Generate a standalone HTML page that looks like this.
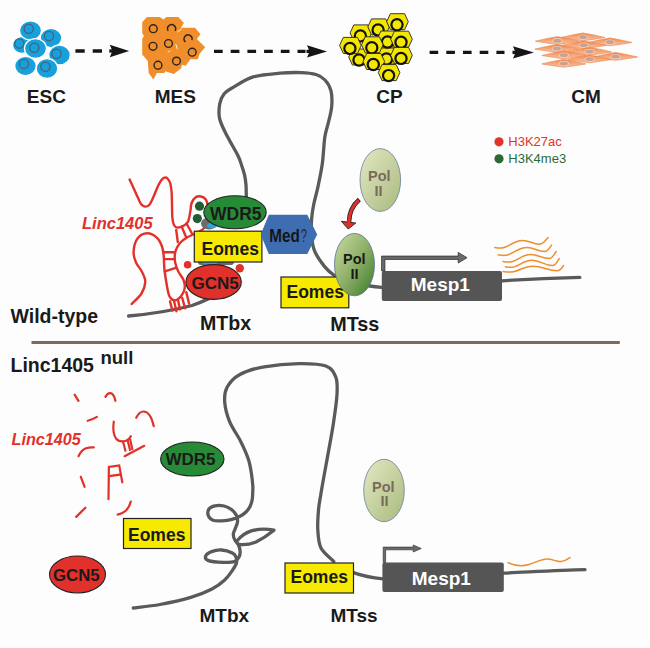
<!DOCTYPE html>
<html><head><meta charset="utf-8"><style>
html,body{margin:0;padding:0;background:#fdfdfd;}
svg{display:block;font-family:"Liberation Sans",sans-serif;}
</style></head><body>
<svg width="650" height="648" viewBox="0 0 650 648">
<rect x="0" y="0" width="650" height="648" fill="#fdfdfd"/>
<g>
<ellipse cx="22" cy="45" rx="9.5" ry="8.5" fill="#17a0da" stroke="#fdfdfd" stroke-width="1.3"/>
<circle cx="19.4" cy="43.5" r="4.6" fill="none" stroke="#45627e" stroke-width="1.3"/>
<ellipse cx="30.5" cy="30.5" rx="11" ry="9.6" fill="#17a0da" stroke="#fdfdfd" stroke-width="1.3"/>
<circle cx="28.7" cy="28.7" r="4.6" fill="none" stroke="#45627e" stroke-width="1.3"/>
<ellipse cx="51" cy="38" rx="10.8" ry="9.6" fill="#17a0da" stroke="#fdfdfd" stroke-width="1.3"/>
<circle cx="49" cy="36" r="4.6" fill="none" stroke="#45627e" stroke-width="1.3"/>
<ellipse cx="35.5" cy="48.5" rx="11" ry="9.8" fill="#17a0da" stroke="#fdfdfd" stroke-width="1.3"/>
<circle cx="34.3" cy="47.8" r="4.6" fill="none" stroke="#45627e" stroke-width="1.3"/>
<ellipse cx="59.5" cy="55" rx="10.8" ry="10" fill="#17a0da" stroke="#fdfdfd" stroke-width="1.3"/>
<circle cx="56.5" cy="53.7" r="4.6" fill="none" stroke="#45627e" stroke-width="1.3"/>
<ellipse cx="25.5" cy="66" rx="10.8" ry="9.6" fill="#17a0da" stroke="#fdfdfd" stroke-width="1.3"/>
<circle cx="24" cy="63.9" r="4.6" fill="none" stroke="#45627e" stroke-width="1.3"/>
<ellipse cx="47" cy="68.5" rx="10.8" ry="10" fill="#17a0da" stroke="#fdfdfd" stroke-width="1.3"/>
<circle cx="45.4" cy="66.7" r="4.6" fill="none" stroke="#45627e" stroke-width="1.3"/>
</g>
<polygon points="142.2,22.2 146.9,17 159.8,17 163.5,19.4 166.3,17 178.3,17 183.9,23.1 181,27.8 195,27.8 200.5,34.3 196.9,38.9 205.2,47.2 199.6,53.7 197.8,59.3 190.4,59.3 185.7,65.7 182,64.8 181,68.5 173.7,74 165.4,71.3 164.4,73.1 157,73.1 153.3,79.6 148.7,73.1 147.8,61.1 142.2,54.6 142.2,38.9 144,36.1 142.2,33.3" fill="#f08e2b"/>
<circle cx="153.3" cy="28.7" r="3.9" fill="none" stroke="#2a2420" stroke-width="1.4"/>
<circle cx="153" cy="46.3" r="3.9" fill="none" stroke="#2a2420" stroke-width="1.4"/>
<circle cx="168.5" cy="43.5" r="3.9" fill="none" stroke="#2a2420" stroke-width="1.4"/>
<circle cx="192.2" cy="52.2" r="3.9" fill="none" stroke="#2a2420" stroke-width="1.4"/>
<circle cx="158" cy="65.2" r="3.9" fill="none" stroke="#2a2420" stroke-width="1.4"/>
<circle cx="176.5" cy="61.1" r="3.9" fill="none" stroke="#2a2420" stroke-width="1.4"/>
<path d="M168.2,30.8 A4,4 0 1 1 175,30.8" fill="none" stroke="#2a2420" stroke-width="1.4"/>
<path d="M185.5,42 A4,4 0 1 1 191.9,40" fill="none" stroke="#2a2420" stroke-width="1.4"/>
<line x1="177.4" y1="32" x2="181.9" y2="28.7" stroke="#fdfdfd" stroke-width="0.9"/>
<line x1="168" y1="52.6" x2="170.2" y2="50.3" stroke="#fdfdfd" stroke-width="0.9"/>
<line x1="175.8" y1="44.2" x2="177.4" y2="49.2" stroke="#fdfdfd" stroke-width="0.9"/>
<polygon points="348.7,57.0 352.4,49.0 366.6,49.0 370.3,57.0 366.6,65.0 352.4,65.0" fill="#f3e600" stroke="#222" stroke-width="0.9"/>
<circle cx="359.0" cy="60.0" r="5.6" fill="#f3e600" stroke="#111" stroke-width="2.2"/>
<polygon points="376.2,56.0 379.9,48.0 394.1,48.0 397.8,56.0 394.1,64.0 379.9,64.0" fill="#f3e600" stroke="#222" stroke-width="0.9"/>
<circle cx="386.5" cy="59.0" r="5.6" fill="#f3e600" stroke="#111" stroke-width="2.2"/>
<polygon points="350.1,32.9 353.8,24.9 368.0,24.9 371.7,32.9 368.0,40.9 353.8,40.9" fill="#f3e600" stroke="#222" stroke-width="0.9"/>
<circle cx="360.4" cy="35.9" r="5.6" fill="#f3e600" stroke="#111" stroke-width="2.2"/>
<polygon points="367.8,26.9 371.5,18.9 385.7,18.9 389.4,26.9 385.7,34.9 371.5,34.9" fill="#f3e600" stroke="#222" stroke-width="0.9"/>
<circle cx="378.1" cy="29.9" r="5.6" fill="#f3e600" stroke="#111" stroke-width="2.2"/>
<polygon points="386.7,21.7 390.4,13.7 404.6,13.7 408.3,21.7 404.6,29.7 390.4,29.7" fill="#f3e600" stroke="#222" stroke-width="0.9"/>
<circle cx="397.0" cy="24.7" r="5.6" fill="#f3e600" stroke="#111" stroke-width="2.2"/>
<polygon points="377.2,39.0 380.9,31.0 395.1,31.0 398.8,39.0 395.1,47.0 380.9,47.0" fill="#f3e600" stroke="#222" stroke-width="0.9"/>
<circle cx="387.5" cy="42.0" r="5.6" fill="#f3e600" stroke="#111" stroke-width="2.2"/>
<polygon points="390.7,39.2 394.4,31.2 408.6,31.2 412.3,39.2 408.6,47.2 394.4,47.2" fill="#f3e600" stroke="#222" stroke-width="0.9"/>
<circle cx="401.0" cy="42.2" r="5.6" fill="#f3e600" stroke="#111" stroke-width="2.2"/>
<polygon points="339.6,45.4 343.3,37.4 357.5,37.4 361.2,45.4 357.5,53.4 343.3,53.4" fill="#f3e600" stroke="#222" stroke-width="0.9"/>
<circle cx="349.9" cy="48.4" r="5.6" fill="#f3e600" stroke="#111" stroke-width="2.2"/>
<polygon points="361.5,44.8 365.2,36.8 379.4,36.8 383.1,44.8 379.4,52.8 365.2,52.8" fill="#f3e600" stroke="#222" stroke-width="0.9"/>
<circle cx="371.8" cy="47.8" r="5.6" fill="#f3e600" stroke="#111" stroke-width="2.2"/>
<polygon points="390.7,55.4 394.4,47.4 408.6,47.4 412.3,55.4 408.6,63.4 394.4,63.4" fill="#f3e600" stroke="#222" stroke-width="0.9"/>
<circle cx="401.0" cy="58.4" r="5.6" fill="#f3e600" stroke="#111" stroke-width="2.2"/>
<polygon points="363.0,61.5 366.7,53.5 380.9,53.5 384.6,61.5 380.9,69.5 366.7,69.5" fill="#f3e600" stroke="#222" stroke-width="0.9"/>
<circle cx="373.3" cy="64.5" r="5.6" fill="#f3e600" stroke="#111" stroke-width="2.2"/>
<polygon points="378.3,72.6 382.0,64.6 396.2,64.6 399.9,72.6 396.2,80.6 382.0,80.6" fill="#f3e600" stroke="#222" stroke-width="0.9"/>
<circle cx="388.6" cy="75.6" r="5.6" fill="#f3e600" stroke="#111" stroke-width="2.2"/>
<defs><linearGradient id="cmg" x1="0" y1="0" x2="0" y2="1"><stop offset="0" stop-color="#ef7d3c"/><stop offset="0.45" stop-color="#f4a476"/><stop offset="1" stop-color="#f8c6a6"/></linearGradient></defs>
<path d="M561.0,37.5 Q573.0,34.5 583.0,33.0 Q593.0,34.5 605.0,37.5 Q593.0,39.5 583.0,40.8 Q573.0,39.5 561.0,37.5 Z" fill="url(#cmg)" stroke="#f08a50" stroke-width="0.7"/>
<ellipse cx="583.0" cy="37.0" rx="5" ry="2.6" fill="#f3d3c3"/>
<ellipse cx="583.0" cy="37.0" rx="4.2" ry="2" fill="#c9a292"/>
<path d="M535.3,41.2 Q547.3,38.2 557.3,36.7 Q567.3,38.2 579.3,41.2 Q567.3,43.2 557.3,44.5 Q547.3,43.2 535.3,41.2 Z" fill="url(#cmg)" stroke="#f08a50" stroke-width="0.7"/>
<ellipse cx="557.3" cy="40.7" rx="5" ry="2.6" fill="#f3d3c3"/>
<ellipse cx="557.3" cy="40.7" rx="4.2" ry="2" fill="#c9a292"/>
<path d="M588.0,42.5 Q600.0,39.5 610.0,38.0 Q620.0,39.5 632.0,42.5 Q620.0,44.5 610.0,45.8 Q600.0,44.5 588.0,42.5 Z" fill="url(#cmg)" stroke="#f08a50" stroke-width="0.7"/>
<ellipse cx="610.0" cy="42.0" rx="5" ry="2.6" fill="#f3d3c3"/>
<ellipse cx="610.0" cy="42.0" rx="4.2" ry="2" fill="#c9a292"/>
<path d="M561.7,45.5 Q573.7,42.5 583.7,41.0 Q593.7,42.5 605.7,45.5 Q593.7,47.5 583.7,48.8 Q573.7,47.5 561.7,45.5 Z" fill="url(#cmg)" stroke="#f08a50" stroke-width="0.7"/>
<ellipse cx="583.7" cy="45.0" rx="5" ry="2.6" fill="#f3d3c3"/>
<ellipse cx="583.7" cy="45.0" rx="4.2" ry="2" fill="#c9a292"/>
<path d="M535.0,49.1 Q547.0,46.1 557.0,44.6 Q567.0,46.1 579.0,49.1 Q567.0,51.1 557.0,52.4 Q547.0,51.1 535.0,49.1 Z" fill="url(#cmg)" stroke="#f08a50" stroke-width="0.7"/>
<ellipse cx="557.0" cy="48.6" rx="5" ry="2.6" fill="#f3d3c3"/>
<ellipse cx="557.0" cy="48.6" rx="4.2" ry="2" fill="#c9a292"/>
<path d="M567.6,51.9 Q579.6,48.9 589.6,47.4 Q599.6,48.9 611.6,51.9 Q599.6,53.9 589.6,55.2 Q579.6,53.9 567.6,51.9 Z" fill="url(#cmg)" stroke="#f08a50" stroke-width="0.7"/>
<ellipse cx="589.6" cy="51.4" rx="5" ry="2.6" fill="#f3d3c3"/>
<ellipse cx="589.6" cy="51.4" rx="4.2" ry="2" fill="#c9a292"/>
<path d="M541.8,55.5 Q553.8,52.5 563.8,51.0 Q573.8,52.5 585.8,55.5 Q573.8,57.5 563.8,58.8 Q553.8,57.5 541.8,55.5 Z" fill="url(#cmg)" stroke="#f08a50" stroke-width="0.7"/>
<ellipse cx="563.8" cy="55.0" rx="5" ry="2.6" fill="#f3d3c3"/>
<ellipse cx="563.8" cy="55.0" rx="4.2" ry="2" fill="#c9a292"/>
<path d="M593.5,57.0 Q605.5,54.0 615.5,52.5 Q625.5,54.0 637.5,57.0 Q625.5,59.0 615.5,60.3 Q605.5,59.0 593.5,57.0 Z" fill="url(#cmg)" stroke="#f08a50" stroke-width="0.7"/>
<ellipse cx="615.5" cy="56.5" rx="5" ry="2.6" fill="#f3d3c3"/>
<ellipse cx="615.5" cy="56.5" rx="4.2" ry="2" fill="#c9a292"/>
<path d="M567.6,59.5 Q579.6,56.5 589.6,55.0 Q599.6,56.5 611.6,59.5 Q599.6,61.5 589.6,62.8 Q579.6,61.5 567.6,59.5 Z" fill="url(#cmg)" stroke="#f08a50" stroke-width="0.7"/>
<ellipse cx="589.6" cy="59.0" rx="5" ry="2.6" fill="#f3d3c3"/>
<ellipse cx="589.6" cy="59.0" rx="4.2" ry="2" fill="#c9a292"/>
<path d="M541.8,63.9 Q553.8,60.9 563.8,59.4 Q573.8,60.9 585.8,63.9 Q573.8,65.9 563.8,67.2 Q553.8,65.9 541.8,63.9 Z" fill="url(#cmg)" stroke="#f08a50" stroke-width="0.7"/>
<ellipse cx="563.8" cy="63.4" rx="5" ry="2.6" fill="#f3d3c3"/>
<ellipse cx="563.8" cy="63.4" rx="4.2" ry="2" fill="#c9a292"/>
<line x1="75.4" y1="51" x2="102" y2="51" stroke="#151515" stroke-width="3.3" stroke-dasharray="9.3 8"/>
<path d="M129.2,51 L109.8,44.8 L112.39999999999999,51 L109.8,57.2 Z" fill="#151515"/>
<rect x="109.3" y="49.35" width="5" height="3.3" fill="#151515"/>
<line x1="214" y1="51.4" x2="305.5" y2="51.4" stroke="#151515" stroke-width="3.3" stroke-dasharray="8.7 8"/>
<path d="M327,51.4 L307,45.199999999999996 L309.6,51.4 L307,57.6 Z" fill="#151515"/>
<rect x="306.5" y="49.75" width="5" height="3.3" fill="#151515"/>
<line x1="429.6" y1="52.4" x2="504.5" y2="52.4" stroke="#151515" stroke-width="3.3" stroke-dasharray="8.6 8.1"/>
<path d="M533.9,52.4 L513,46.199999999999996 L515.6,52.4 L513,58.6 Z" fill="#151515"/>
<rect x="512.5" y="50.75" width="5" height="3.3" fill="#151515"/>
<text x="26.8" y="102.5" font-size="19" font-weight="bold" fill="#1a1a1a" >ESC</text>
<text x="154.8" y="102.5" font-size="19" font-weight="bold" fill="#1a1a1a" >MES</text>
<text x="376.2" y="102.5" font-size="19" font-weight="bold" fill="#1a1a1a" >CP</text>
<text x="571.2" y="102.5" font-size="19" font-weight="bold" fill="#1a1a1a" >CM</text>
<path d="M128.6,316 C150,314 175,310 192,305.5 C205,301 215,296 225,290" stroke="#5a5a5a" stroke-width="3.3" fill="none" stroke-linecap="round" stroke-linejoin="round"/>
<path d="M246.3,197.0 C246.2,195.0 246.3,188.6 246.0,185.0 C245.7,181.4 245.3,178.5 244.6,175.2 C243.8,171.9 242.6,168.2 241.5,165.0 C240.4,161.8 240.4,160.5 238.0,155.7 C235.6,150.9 230.4,142.4 227.3,136.3 C224.2,130.2 221.0,124.4 219.7,119.0 C218.4,113.6 219.0,108.1 219.7,103.9 C220.4,99.7 222.0,96.6 224.0,94.0 C226.0,91.4 226.7,91.1 231.6,88.3 C236.5,85.5 245.1,79.4 253.2,76.9 C261.3,74.4 272.0,73.9 280.0,73.2 C288.0,72.5 295.0,72.4 301.0,72.6 C307.0,72.8 312.0,73.3 316.0,74.5 C320.0,75.7 322.5,77.3 325.0,80.0 C327.5,82.7 329.9,86.5 331.0,90.9 C332.1,95.3 332.1,101.2 331.7,106.3 C331.3,111.4 329.8,116.6 328.6,121.7 C327.5,126.8 325.8,130.3 324.8,137.2 C323.8,144.1 323.5,154.8 322.4,163.0 C321.3,171.2 319.4,179.9 318.0,186.7 C316.6,193.5 314.9,198.6 313.8,204.0 C312.7,209.4 312.0,213.6 311.6,219.0 C311.2,224.4 311.1,231.0 311.6,236.4 C312.1,241.8 312.6,246.5 314.8,251.5 C317.0,256.5 321.4,262.6 324.6,266.6 C327.9,270.6 330.1,272.7 334.3,275.3 C338.5,277.9 344.1,280.7 350.0,282.5 C355.9,284.3 364.5,285.2 370.0,286.0 C375.5,286.8 380.8,287.2 383.0,287.4" stroke="#5a5a5a" stroke-width="3.3" fill="none" stroke-linecap="round" stroke-linejoin="round"/>
<path d="M502,280.8 C530,279 555,278 579.8,277.4" stroke="#5a5a5a" stroke-width="3.3" fill="none" stroke-linecap="round" stroke-linejoin="round"/>
<path d="M129.6,179.6 C130.3,181.2 132.6,185.8 134.0,189.0 C135.4,192.2 137.1,196.0 138.3,198.5 C139.5,201.0 139.9,202.7 141.0,204.0 C142.1,205.3 143.6,206.4 145.0,206.6 C146.4,206.8 148.0,206.2 149.2,205.0 C150.4,203.8 151.2,201.7 152.3,199.5 C153.4,197.3 154.5,194.4 155.5,192.0 C156.5,189.6 157.5,187.0 158.5,185.0 C159.5,183.0 160.5,181.2 161.5,180.0 C162.5,178.8 163.4,177.9 164.4,177.7 C165.4,177.4 166.5,177.5 167.5,178.5 C168.5,179.5 169.6,181.2 170.3,183.5 C171.0,185.8 171.3,188.4 171.6,192.0 C171.9,195.6 171.9,200.7 172.0,205.0 C172.1,209.3 172.1,214.7 172.4,218.0 C172.7,221.3 173.2,223.4 174.0,225.0 C174.8,226.6 175.7,227.5 177.3,227.6 C178.9,227.7 181.7,226.8 183.5,225.8 C185.3,224.8 187.0,223.8 188.1,221.4 C189.2,219.0 189.7,214.7 190.3,211.6 C190.9,208.5 190.7,205.4 191.6,203.0 C192.5,200.6 194.1,198.4 195.7,197.3 C197.3,196.2 199.3,196.1 201.0,196.5 C202.7,196.9 204.9,198.1 206.0,199.7 C207.1,201.3 207.3,202.6 207.6,206.2 C207.9,209.8 208.3,217.6 207.6,221.4 C206.9,225.2 205.2,227.0 203.2,229.0 C201.2,231.0 198.4,231.8 195.7,233.2 C193.0,234.6 189.4,236.1 187.0,237.6 C184.6,239.1 182.7,240.3 181.0,242.0 C179.3,243.7 178.0,245.5 177.0,247.5 C176.0,249.5 175.2,251.4 174.9,254.0 C174.6,256.6 174.7,260.2 175.3,263.1 C175.9,266.0 176.9,268.7 178.3,271.5 C179.7,274.3 182.4,277.1 183.5,280.0 C184.6,282.9 185.0,285.9 184.6,288.6 C184.2,291.3 182.7,294.2 181.0,296.2 C179.3,298.2 176.6,300.3 174.7,300.4 C172.8,300.4 170.9,298.9 169.6,296.5 C168.3,294.1 167.8,290.7 167.0,286.3 C166.2,281.9 165.1,275.1 164.5,270.0 C163.9,264.9 164.1,259.9 163.7,256.0 C163.3,252.1 163.1,249.5 162.0,246.5 C160.9,243.5 159.5,240.0 157.0,237.8 C154.5,235.6 150.4,233.2 147.2,233.3 C143.9,233.4 139.8,235.4 137.5,238.5 C135.2,241.6 133.8,248.0 133.6,252.0 C133.3,256.0 134.6,259.2 136.0,262.5 C137.4,265.8 140.2,268.3 141.8,271.5 C143.4,274.7 145.4,278.2 145.3,281.9 C145.2,285.6 143.8,289.8 141.5,293.5 C139.2,297.2 133.3,302.2 131.7,304.0" stroke="#e2312a" stroke-width="2.4" fill="none" stroke-linecap="round"/>
<line x1="176.2" y1="230" x2="177.8" y2="242" stroke="#e2312a" stroke-width="2.4" fill="none" stroke-linecap="round"/>
<line x1="181.6" y1="226.6" x2="186" y2="236.8" stroke="#e2312a" stroke-width="2.4" fill="none" stroke-linecap="round"/>
<line x1="186.5" y1="223.5" x2="192" y2="233.5" stroke="#e2312a" stroke-width="2.4" fill="none" stroke-linecap="round"/>
<line x1="163.7" y1="252.2" x2="174.8" y2="252.2" stroke="#e2312a" stroke-width="2.4" fill="none" stroke-linecap="round"/>
<line x1="164.3" y1="259.1" x2="174.9" y2="259.1" stroke="#e2312a" stroke-width="2.4" fill="none" stroke-linecap="round"/>
<line x1="164.8" y1="271.3" x2="175.8" y2="267.8" stroke="#e2312a" stroke-width="2.4" fill="none" stroke-linecap="round"/>
<line x1="170" y1="301.3" x2="172.4" y2="310.6" stroke="#e2312a" stroke-width="2.4" fill="none" stroke-linecap="round"/>
<line x1="174.1" y1="301.3" x2="176.4" y2="311.2" stroke="#e2312a" stroke-width="2.4" fill="none" stroke-linecap="round"/>
<line x1="178.1" y1="300.2" x2="179.9" y2="309.4" stroke="#e2312a" stroke-width="2.4" fill="none" stroke-linecap="round"/>
<line x1="182.2" y1="297.9" x2="185.1" y2="308.3" stroke="#e2312a" stroke-width="2.4" fill="none" stroke-linecap="round"/>
<line x1="186.3" y1="292.1" x2="189.1" y2="303.7" stroke="#e2312a" stroke-width="2.4" fill="none" stroke-linecap="round"/>
<ellipse cx="209" cy="223.5" rx="8" ry="6" fill="#6a6a6a"/>
<ellipse cx="212" cy="225.5" rx="5" ry="3" fill="#2aa8de"/>
<rect x="198" y="259" width="36" height="6" rx="3" fill="#6a6a6a"/>
<ellipse cx="210" cy="263" rx="7" ry="2.5" fill="#2aa8de"/>
<ellipse cx="213.6" cy="282" rx="27.7" ry="17.4" fill="#e2302a" stroke="#222" stroke-width="1.1"/>
<rect x="194.3" y="231.2" width="67.6" height="30.8" fill="#f7ea00" stroke="#222" stroke-width="1.2"/>
<ellipse cx="235" cy="212.3" rx="31.2" ry="16.5" fill="#278a36" stroke="#222" stroke-width="1.1"/>
<polygon points="260.7,234.5 268.8,214.8 307.3,214.8 317.2,234.5 307.3,254 268.8,254" fill="#3f6db1"/>
<circle cx="199.5" cy="206.2" r="4.6" fill="#1f5e30"/>
<circle cx="197.3" cy="218.6" r="4.6" fill="#1f5e30"/>
<circle cx="187.6" cy="264.8" r="3.8" fill="#e2302a"/>
<circle cx="239.8" cy="268.2" r="4.2" fill="#e2302a"/>
<text x="210" y="219.8" font-size="17.5" font-weight="bold" fill="#1a1a1a" >WDR5</text>
<text x="201.5" y="254.5" font-size="17.5" font-weight="bold" fill="#1a1a1a" >Eomes</text>
<text x="191.5" y="288.5" font-size="17" font-weight="bold" fill="#1a1a1a" >GCN5</text>
<text x="0" y="0" font-size="19" font-weight="bold" fill="#161616" transform="translate(269.3 241.6) scale(0.805 1)">Med</text>
<text x="0" y="0" font-size="18" font-weight="normal" fill="#2a2a2a" transform="translate(300.8 241.6) scale(0.62 1)">?</text>
<defs><linearGradient id="gl" x1="0" y1="0" x2="1" y2="1"><stop offset="0" stop-color="#e3e8c4"/><stop offset="1" stop-color="#a9ba7e"/></linearGradient><linearGradient id="gd" x1="0" y1="0" x2="1" y2="1"><stop offset="0" stop-color="#cadba2"/><stop offset="0.5" stop-color="#8fb068"/><stop offset="1" stop-color="#3a7a2a"/></linearGradient></defs>
<ellipse cx="380.3" cy="180" rx="20.3" ry="31.4" fill="url(#gl)" stroke="#6c7f9a" stroke-width="0.8"/>
<text x="368" y="181" font-size="14.5" font-weight="bold" fill="#7a6c5c" >Pol</text>
<text x="374.5" y="196" font-size="14.5" font-weight="bold" fill="#7a6c5c" >II</text>
<path d="M359.3,199.6 C353,205 349,212 348.9,223" stroke="#2a2020" stroke-width="4.6" fill="none"/>
<path d="M359.3,199.6 C353,205 349,212 348.9,223" stroke="#e0302a" stroke-width="2.9" fill="none" stroke-dasharray="0 0.8 100"/>
<path d="M341.3,221.3 L355.8,223 L348.2,229 Z" fill="#e0302a" stroke="#2a2020" stroke-width="0.9" stroke-linejoin="round"/>
<path d="M349,219 L348.9,224" stroke="#e0302a" stroke-width="2.9" fill="none"/>
<rect x="281" y="277" width="67.8" height="30.8" fill="#f7ea00" stroke="#222" stroke-width="1.2"/>
<ellipse cx="354.5" cy="264.6" rx="20" ry="31.2" fill="url(#gd)" stroke="#5a6f9a" stroke-width="0.8"/>
<text x="286.5" y="297.5" font-size="17.5" font-weight="bold" fill="#1a1a1a" >Eomes</text>
<text x="343" y="264" font-size="14.5" font-weight="bold" fill="#1a1a1a" >Pol</text>
<text x="350.5" y="278.5" font-size="14.5" font-weight="bold" fill="#1a1a1a" >II</text>
<rect x="381.8" y="271" width="120.2" height="30" rx="2" fill="#555555"/>
<path d="M381.6,271 L381.6,256.1 L458.2,256.1 L458.2,252.4 L467,257.7 L458.2,263 L458.2,259.4 L384.9,259.4 L384.9,271 Z" fill="#6a6a6a" stroke="#333" stroke-width="0.8" stroke-linejoin="miter"/>
<text x="410.8" y="291.2" font-size="19" font-weight="bold" fill="#ffffff" >Mesp1</text>
<path d="M494.9,247.4 C508.6,250.6 510.8,240.4 522.4,240.4 C530.1,240.4 531.8,244.2 539.5,244.2 C543.4,244.2 546.0,239.8 548.1,237.5" stroke="#ee8e2c" stroke-width="1.5" fill="none" stroke-linecap="round"/>
<path d="M498.4,254.8 C512.7,258.0 515.0,247.4 527.0,247.4 C534.9,247.4 536.7,251.5 544.6,251.5 C547.8,251.5 549.9,247.3 551.6,245.1" stroke="#ee8e2c" stroke-width="1.5" fill="none" stroke-linecap="round"/>
<path d="M503.1,261.5 C516.9,264.7 519.1,254.5 530.6,254.5 C539.0,254.5 540.9,258.6 549.3,258.6 C552.4,258.6 554.4,254.0 556.1,251.5" stroke="#ee8e2c" stroke-width="1.5" fill="none" stroke-linecap="round"/>
<path d="M505.4,266.7 C518.6,269.9 520.7,260.3 531.8,260.3 C541.2,260.3 543.3,265.6 552.8,265.6 C555.7,265.6 557.6,261.1 559.2,258.6" stroke="#ee8e2c" stroke-width="1.5" fill="none" stroke-linecap="round"/>
<path d="M503.1,271.4 C518.0,274.6 520.4,266.2 532.9,266.2 C544.0,266.2 546.4,270.8 557.5,270.8 C560.2,270.8 562.1,267.4 563.6,265.6" stroke="#ee8e2c" stroke-width="1.5" fill="none" stroke-linecap="round"/>
<circle cx="499" cy="141.8" r="4.6" fill="#e2342c"/>
<circle cx="499" cy="158.8" r="4.6" fill="#2b6a37"/>
<text x="508.3" y="146" font-size="13" font-weight="normal" fill="#e2342c" >H3K27ac</text>
<text x="508.3" y="163" font-size="13" font-weight="normal" fill="#2b6a37" >H3K4me3</text>
<text x="82" y="229" font-size="16.5" font-weight="bold" fill="#e2312a" font-style="italic">Linc1405</text>
<text x="10.5" y="323.2" font-size="19.5" font-weight="bold" fill="#1a1a1a" >Wild-type</text>
<text x="200" y="330.3" font-size="19.6" font-weight="bold" fill="#1a1a1a" >MTbx</text>
<text x="330.2" y="331.3" font-size="19.8" font-weight="bold" fill="#1a1a1a" >MTss</text>
<line x1="31.5" y1="342.5" x2="619.8" y2="342.5" stroke="#7c6b5a" stroke-width="3"/>
<text x="10.5" y="372" font-size="19.5" font-weight="bold" fill="#1a1a1a" >Linc1405</text>
<text x="100.5" y="363.8" font-size="18.5" font-weight="bold" fill="#1a1a1a" >null</text>
<path d="M133.3,608.0 C137.8,607.4 150.6,606.2 160.0,604.5 C169.4,602.8 181.3,600.3 190.0,597.7 C198.7,595.1 206.2,592.0 212.0,589.0 C217.8,586.0 221.4,583.0 224.7,580.0 C228.0,577.0 230.1,573.8 232.0,571.0 C233.9,568.2 235.6,565.8 236.3,563.5 C237.0,561.2 236.7,558.7 236.0,557.0 C235.3,555.3 234.8,554.3 232.4,553.1 C230.0,551.9 225.1,550.2 221.6,550.0 C218.1,549.8 214.3,550.6 211.6,551.6 C208.9,552.6 206.1,554.7 205.6,556.2 C205.1,557.7 205.6,559.6 208.5,560.6 C211.4,561.6 218.8,562.2 223.1,562.4 C227.4,562.5 231.8,562.5 234.5,561.5 C237.2,560.5 238.4,558.2 239.3,556.5 C240.2,554.8 240.2,552.9 240.1,551.0 C240.0,549.1 239.4,546.9 238.5,545.0 C237.6,543.1 235.5,541.3 234.6,539.5 C233.7,537.7 233.2,535.9 233.3,534.0 C233.5,532.1 234.8,530.0 235.5,528.0 C236.2,526.0 237.3,524.1 237.5,522.0 C237.7,519.9 237.5,517.6 236.5,515.5 C235.5,513.4 233.6,511.1 231.5,509.5 C229.4,507.9 226.8,506.6 224.0,506.0 C221.2,505.4 217.5,505.3 215.0,505.8 C212.5,506.3 210.1,507.4 209.0,509.0 C207.9,510.6 207.6,513.6 208.3,515.5 C209.0,517.4 210.7,519.4 213.0,520.3 C215.3,521.2 218.8,521.0 222.0,520.8 C225.2,520.6 229.0,520.1 232.0,519.3 C235.0,518.5 237.7,517.4 240.0,516.2 C242.3,515.0 244.3,513.7 246.0,512.0 C247.7,510.3 249.2,508.2 250.3,506.0 C251.4,503.8 251.9,501.7 252.3,499.0 C252.7,496.3 252.7,492.2 252.8,490.0 C252.9,487.8 253.0,488.5 252.8,485.8 C252.6,483.1 252.2,478.5 251.5,474.0 C250.8,469.5 250.1,464.4 248.3,459.0 C246.5,453.6 243.8,447.6 240.7,441.4 C237.6,435.2 232.3,428.2 229.6,421.6 C226.9,415.0 225.1,407.7 224.7,401.9 C224.3,396.1 224.7,391.5 227.2,387.0 C229.7,382.5 233.3,378.1 239.5,374.7 C245.7,371.3 254.3,368.6 264.2,366.8 C274.1,365.0 288.5,363.7 298.8,363.6 C309.1,363.5 319.7,363.7 325.9,366.0 C332.1,368.3 333.9,372.5 335.8,377.2 C337.7,381.9 337.4,386.6 337.0,394.4 C336.6,402.2 334.9,413.3 333.3,424.0 C331.7,434.7 329.2,447.1 327.2,458.6 C325.1,470.1 322.4,484.6 321.0,493.2 C319.6,501.8 319.0,503.9 318.5,510.0 C318.0,516.0 317.4,523.2 317.8,529.5 C318.2,535.8 318.3,542.7 321.0,548.0 C323.7,553.3 331.7,559.2 333.8,561.5" stroke="#5a5a5a" stroke-width="3.3" fill="none" stroke-linecap="round" stroke-linejoin="round"/>
<path d="M236.5,541.5 C240,537 246,532.5 252,530.7 C258,529 266,528.5 274,530.2 C268,535 262,539 256,542 C251,544 244,545 239.3,544.5" stroke="#5a5a5a" stroke-width="3.3" fill="none" stroke-linecap="round" stroke-linejoin="round"/>
<path d="M353.5,572.6 C360,575 368,577.5 383,578.8" stroke="#5a5a5a" stroke-width="3.3" fill="none" stroke-linecap="round" stroke-linejoin="round"/>
<path d="M503.8,573.2 C530,572 560,570 585,569.6" stroke="#5a5a5a" stroke-width="3.3" fill="none" stroke-linecap="round" stroke-linejoin="round"/>
<path d="M74.6,394.6 L78.5,400.8" stroke="#e2312a" stroke-width="2.2" fill="none" stroke-linecap="round"/>
<path d="M105.4,396.9 C107,394 109,393 110.5,393.2 C113,393.6 114.5,396.5 115.4,400.8" stroke="#e2312a" stroke-width="2.2" fill="none" stroke-linecap="round"/>
<path d="M87.7,420.8 C91,420 94,418.6 96.9,416.9" stroke="#e2312a" stroke-width="2.2" fill="none" stroke-linecap="round"/>
<path d="M136.2,417.7 C138,414 140.5,411.5 143.5,411.5 C148,411.5 151.5,416 153.8,426.2" stroke="#e2312a" stroke-width="2.2" fill="none" stroke-linecap="round"/>
<path d="M113.8,421.5 C113,427 113,434 116,438.5 C118.5,441.5 122,442 126,440.8 C128.5,440 130,438 130.8,436.2" stroke="#e2312a" stroke-width="2.2" fill="none" stroke-linecap="round"/>
<path d="M123,441.5 L125.4,450.8" stroke="#e2312a" stroke-width="2.2" fill="none" stroke-linecap="round"/>
<path d="M127.7,440.5 L130,450" stroke="#e2312a" stroke-width="2.2" fill="none" stroke-linecap="round"/>
<path d="M130.2,439.5 L132.3,449.2" stroke="#e2312a" stroke-width="2.2" fill="none" stroke-linecap="round"/>
<path d="M124.6,456.2 L144.3,445.8" stroke="#e2312a" stroke-width="2.2" fill="none" stroke-linecap="round"/>
<path d="M78.5,456.2 C80.5,452 83,449.5 86,448.3 C89,447.3 91.5,447.2 93.8,447.4" stroke="#e2312a" stroke-width="2.2" fill="none" stroke-linecap="round"/>
<path d="M108.5,499.2 L108.9,466.9 L119.2,465.4 L122.3,482.3" stroke="#e2312a" stroke-width="2.2" fill="none" stroke-linecap="round"/>
<path d="M108.9,476.2 L120,474.6" stroke="#e2312a" stroke-width="2.2" fill="none" stroke-linecap="round"/>
<path d="M80.8,476.9 L84.6,486.9" stroke="#e2312a" stroke-width="2.2" fill="none" stroke-linecap="round"/>
<path d="M76.2,516.9 L85.4,507.7" stroke="#e2312a" stroke-width="2.2" fill="none" stroke-linecap="round"/>
<path d="M117.7,514.6 C121,513.8 124,512.5 126,510.5 C128.5,508 130,505 130.8,501.5" stroke="#e2312a" stroke-width="2.2" fill="none" stroke-linecap="round"/>
<text x="11.5" y="444.7" font-size="16.2" font-weight="bold" fill="#e2312a" font-style="italic">Linc1405</text>
<ellipse cx="192.3" cy="459" rx="31.7" ry="17" fill="#278a36" stroke="#222" stroke-width="1.1"/>
<text x="165.5" y="465.3" font-size="17" font-weight="bold" fill="#1a1a1a" >WDR5</text>
<rect x="123.5" y="518.5" width="67.5" height="30" fill="#f7ea00" stroke="#222" stroke-width="1.2"/>
<text x="128" y="540.6" font-size="17.5" font-weight="bold" fill="#1a1a1a" >Eomes</text>
<ellipse cx="77.5" cy="574.5" rx="28" ry="18.5" fill="#e2302a" stroke="#222" stroke-width="1.1"/>
<text x="53" y="581" font-size="16.8" font-weight="bold" fill="#1a1a1a" >GCN5</text>
<text x="199.5" y="621.5" font-size="19" font-weight="bold" fill="#1a1a1a" >MTbx</text>
<ellipse cx="384" cy="490.5" rx="20.3" ry="31.2" fill="url(#gl)" stroke="#6c7f9a" stroke-width="0.8"/>
<text x="372" y="492" font-size="14.5" font-weight="bold" fill="#7a6c5c" >Pol</text>
<text x="380.5" y="506" font-size="14.5" font-weight="bold" fill="#7a6c5c" >II</text>
<rect x="285" y="563" width="68.5" height="30" fill="#f7ea00" stroke="#222" stroke-width="1.2"/>
<text x="290.5" y="582.5" font-size="17.5" font-weight="bold" fill="#1a1a1a" >Eomes</text>
<text x="330.5" y="622.3" font-size="19" font-weight="bold" fill="#1a1a1a" >MTss</text>
<rect x="382.4" y="562.5" width="121.4" height="29.5" rx="2" fill="#555555"/>
<path d="M383.2,562.5 L383.2,547.1 L413.2,547.1 L413.2,545 L421.3,548.5 L413.2,552 L413.2,549.8 L385.6,549.8 L385.6,562.5 Z" fill="#6a6a6a" stroke="#3a3a3a" stroke-width="0.7"/>
<text x="411.8" y="584.6" font-size="19" font-weight="bold" fill="#ffffff" >Mesp1</text>
<path d="M508,562.6 C514,565.5 522,566.5 529,564.5 C536,562.5 541,559 547,559 C553,559 556,562 561,561.5 C565,561 568,559 570,557.6" stroke="#ee8e2c" stroke-width="1.5" fill="none" stroke-linecap="round"/>
</svg></body></html>
